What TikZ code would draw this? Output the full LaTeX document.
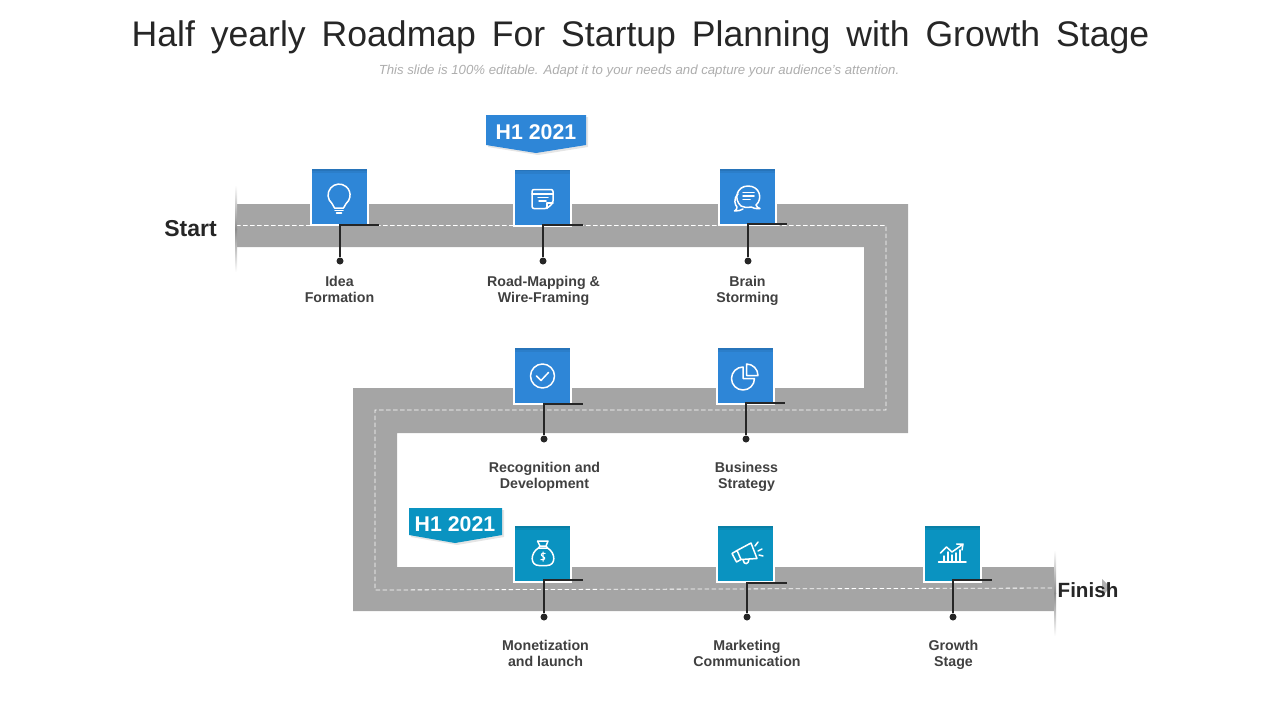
\documentclass[tikz,border=0pt]{standalone}
\usepackage{fontspec}
\setmainfont{Liberation Sans}
\usepackage{xcolor}
\usepackage{tikz}
\usetikzlibrary{arrows.meta,positioning,calc,shadows}
\definecolor{roadgray}{HTML}{A5A5A5}
\definecolor{boxblue}{HTML}{2E86D7}
\definecolor{boxteal}{HTML}{0A93C1}
\definecolor{inkdark}{HTML}{262626}
\definecolor{lblgray}{HTML}{404040}

\begin{document}
\begin{tikzpicture}[x=1pt,y=-1pt,>=latex,
   bx/.style={draw=white,line width=2pt,minimum size=57pt,inner sep=0pt,
     path picture={\fill[black,opacity=.06] (path picture bounding box.north west) rectangle ([yshift=-5pt]path picture bounding box.north east);
       \fill[black,opacity=.08] (path picture bounding box.north west) rectangle ([yshift=-2.5pt]path picture bounding box.north east);}},
   bxb/.style={bx,fill=boxblue},
   bxt/.style={bx,fill=boxteal},
   ic/.style={draw=white,line width=1.5pt,line cap=round,line join=round},
   dt/.style={circle,fill=inkdark,minimum size=7pt,inner sep=0pt},
   ld/.style={draw=inkdark,line width=1.8pt},
   lbl/.style={anchor=base,align=center,text=lblgray,font=\fontsize{14.2}{16}\selectfont\bfseries},
   flg/.style={text=white,font=\fontsize{21.3}{24}\selectfont\bfseries},
   fshadow/.style={drop shadow={shadow xshift=2pt,shadow yshift=-2pt,opacity=.1,fill=black}}]
  \useasboundingbox (0,0) rectangle (1280,720);
  % title
  \node[anchor=base,text=inkdark,font=\fontsize{35.6}{44}\selectfont] (title) at (640.5,46)
    {\spaceskip=15.9pt Half yearly Roadmap For Startup Planning with Growth Stage};
  \node[anchor=base,text=black!32,font=\fontsize{13.2}{15}\selectfont\itshape] (subtitle) at (639,74)
    {This slide is 100\% editable. Adapt it to your needs and capture your audience's attention.};
  % road
  \fill[roadgray] (236,204)--(908,204)--(908,433)--(397,433)--(397,567)--(1055,567)--(1055,611)
    --(353,611)--(353,388)--(864,388)--(864,247)--(236,247)--cycle;
  \draw[white,line width=.8pt,dash pattern=on 4.5pt off 2.5pt] (236,225.5)--(886,225.5)--(886,410)
    --(375,410)--(375,590)--(1055,588);
  \shade[top color=white,bottom color=black!45] (235,185) rectangle (237,229);
  \shade[top color=black!45,bottom color=white] (235,229) rectangle (237,272);
  \shade[top color=white,bottom color=black!45] (1054,550) rectangle (1056,593);
  \shade[top color=black!45,bottom color=white] (1054,593) rectangle (1056,636);
  \node[text=inkdark,font=\fontsize{23}{28}\selectfont\bfseries] (start) at (190.5,229) {Start};
  \fill[black!30] (1102,579)--(1110,587)--(1102,597)--cycle;
  \node[text=inkdark,font=\fontsize{20.6}{26}\selectfont\bfseries] (finish) at (1088,590) {Finish};
  % flags
  \fill[boxblue,fshadow] (486,115)--(586,115)--(586,145)--(536,153)--(486,145)--cycle;
  \node[flg] (flag1) at (536,132) {H1 2021};
  \fill[boxteal,fshadow] (409,508)--(502,508)--(502,535)--(455,543)--(409,535)--cycle;
  \node[flg] (flag2) at (455,524) {H1 2021};
  % boxes
  \node[bxb] (b1) at (339.5,196.5) {};
  \node[bxb] (b2) at (542.5,197) {};
  \node[bxb] (b3) at (747,196.5) {};
  \node[bxb] (b4) at (542.5,375.5) {};
  \node[bxb] (b5) at (745,375.5) {};
  \node[bxt] (b6) at (542.5,553.5) {};
  \node[bxt] (b7) at (745.5,553.5) {};
  \node[bxt] (b8) at (952,553.5) {};
  % leaders
  \node[dt] (d1) at (340,261) {};
  \node[dt] (d2) at (543,261) {};
  \node[dt] (d3) at (748,261) {};
  \node[dt] (d4) at (544,439) {};
  \node[dt] (d5) at (746,439) {};
  \node[dt] (d6) at (544,617) {};
  \node[dt] (d7) at (747,617) {};
  \node[dt] (d8) at (953,617) {};
  \coordinate (e1) at (379,225);
  \coordinate (e2) at (583,225);
  \coordinate (e3) at (787,224);
  \coordinate (e4) at (583,404);
  \coordinate (e5) at (785,403);
  \coordinate (e6) at (583,580);
  \coordinate (e7) at (787,583);
  \coordinate (e8) at (992,580);
  \draw[ld] (d1)|-(e1);
  \draw[ld] (d2)|-(e2);
  \draw[ld] (d3)|-(e3);
  \draw[ld] (d4)|-(e4);
  \draw[ld] (d5)|-(e5);
  \draw[ld] (d6)|-(e6);
  \draw[ld] (d7)|-(e7);
  \draw[ld] (d8)|-(e8);
  % labels
  \node[lbl] (l1) at (339.5,302) {Idea\\Formation};
  \node[lbl] (l2) at (543.5,302) {Road-Mapping \&\\Wire-Framing};
  \node[lbl] (l3) at (747.5,302) {Brain\\Storming};
  \node[lbl] (l4) at (544.5,488) {Recognition and\\Development};
  \node[lbl] (l5) at (746.5,488) {Business\\Strategy};
  \node[lbl] (l6) at (545.5,666) {Monetization\\and launch};
  \node[lbl] (l7) at (747,666) {Marketing\\Communication};
  \node[lbl] (l8) at (953.5,666) {Growth\\Stage};
  % bulb
  \draw[ic] (332,203.5) arc[start angle=230,end angle=-50,radius=11pt]
    .. controls (344.5,205) and (344,206) .. (343.5,208)--(334.5,208) .. controls (334,206) and (333.5,205) .. (332,203.5);
  \draw[ic] (335,210.5)--(343,210.5) (336.5,213)--(341.5,213);
  % note
  \draw[ic,rounded corners=2pt] (547,208.5)--(532,208.5)--(532,189.5)--(553,189.5)--(553,203)--cycle;
  \draw[ic] (532,194)--(553,194) (538,197.5)--(548,197.5) (539,201)--(546,201) (547,208.5)--(547,203)--(553,203);
  % chat
  \draw[ic] (741,206) .. controls (733,199) and (737,186) .. (748,186)
    .. controls (760,186) and (763,199) .. (756,205) .. controls (757,207) and (758,208) .. (760,208.5)
    .. controls (756,209) and (753,208) .. (751,207) .. controls (747,208) and (744,207.5) .. (741,206);
  \draw[ic] (738,194) .. controls (733,199) and (735,205) .. (737,207)
    .. controls (737,209) and (736,210) .. (734.5,211) .. controls (738,211.5) and (741,210) .. (743,209);
  \draw[ic] (743,192.5)--(754,192.5) (743,196)--(754,196) (743,199.5)--(750,199.5);
  % check
  \draw[ic] (542.5,376) circle (12pt);
  \draw[ic] (536.5,376)--(541,380.5)--(548.5,372.5);
  % pie
  \draw[ic] (743,367) arc[start angle=90,end angle=360,radius=11.5pt]--(743,378.5)--cycle;
  \draw[ic] (746.5,375.5)--(746.5,364) arc[start angle=90,end angle=0,radius=11.5pt]--cycle;
  % bag
  \draw[ic] (538.5,548) .. controls (530,553) and (530,565.5) .. (539,565.5)--(547,565.5)
    .. controls (556,565.5) and (556,553) .. (547.5,548)--cycle;
  \draw[ic] (537.5,541)--(548,541)--(546,546)--(547.5,548) (537.5,541)--(540,546)--(538.5,548) (540,546)--(546,546);
  \draw[white,line width=1pt] (545.5,553.5) .. controls (541,552) and (540,555.5) .. (543,556.5)
    .. controls (546,557.5) and (545,561) .. (540.5,559.5) (543,551.5)--(543,561.5);
  % megaphone
  \draw[ic] (732,553.5)--(736.5,562)--(741,559.5)--(737,550.5)--cycle;
  \draw[ic] (737,550.5)--(751,543)--(757,558.5)--(741,559.5);
  \draw[ic] (743,560) .. controls (744,565.5) and (749,564.5) .. (749,559);
  \draw[ic] (755,546)--(758,542) (758,551)--(762,549) (759,555)--(763,556);
  % chart
  \draw[ic] (938.5,562)--(966,562);
  \draw[ic] (944,562)--(944,556) (948,562)--(948,552) (952,562)--(952,555) (956,562)--(956,553) (960,562)--(960,550);
  \draw[ic] (940.5,553)--(946.5,547)--(952,552)--(962.5,544.5) (956.5,544)--(963,544)--(962,550);
\end{tikzpicture}
\end{document}
